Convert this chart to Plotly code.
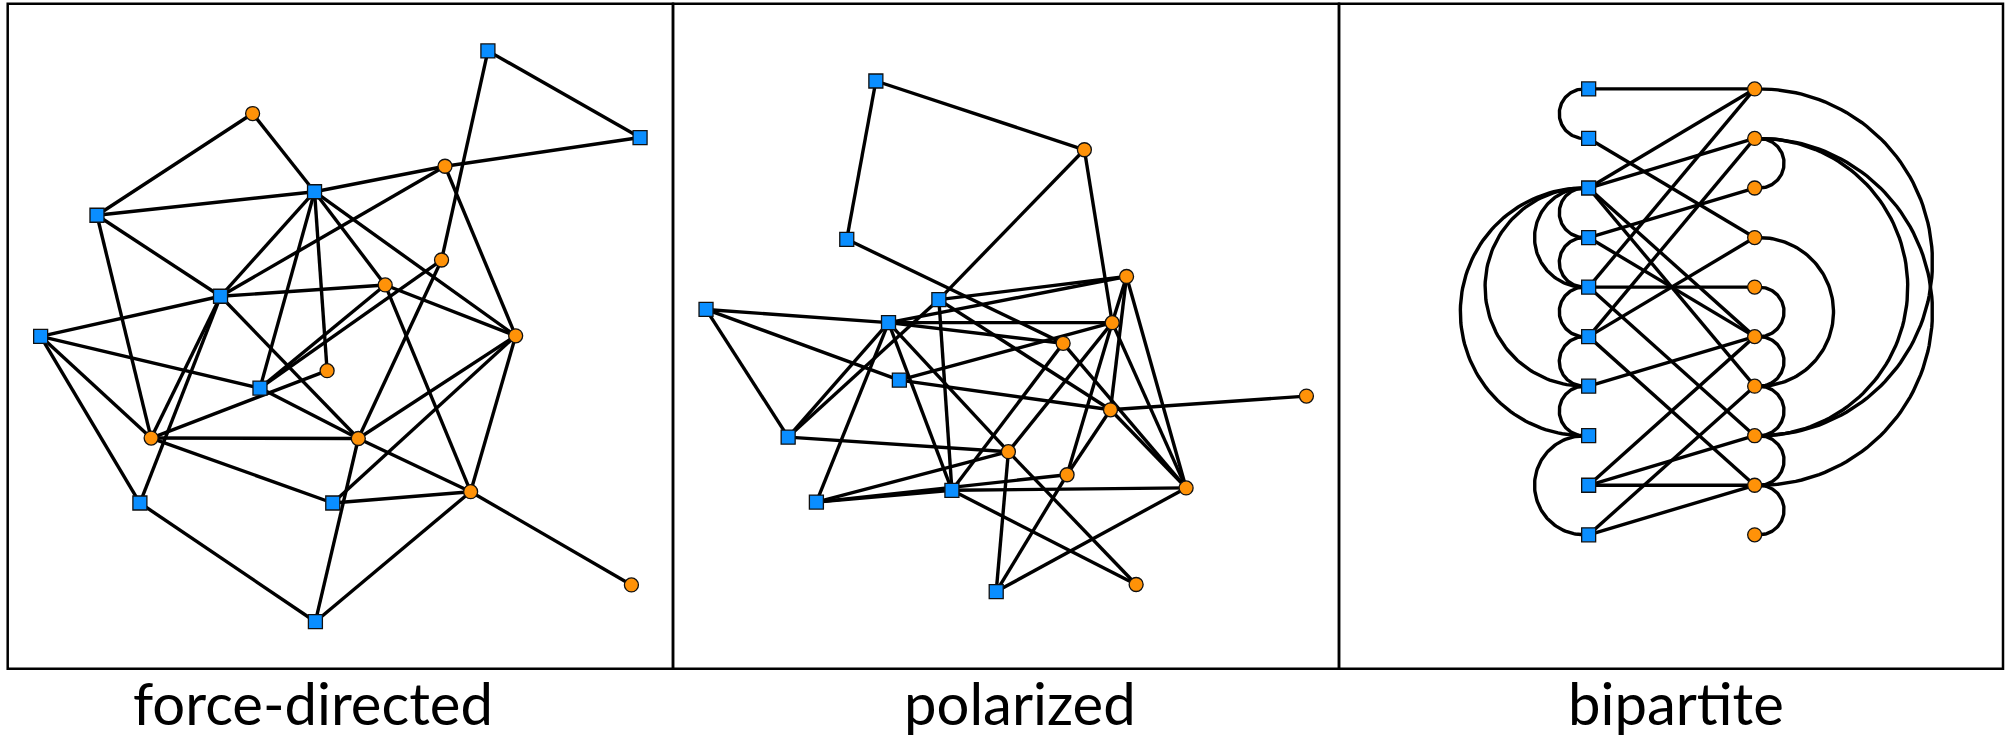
import numpy as np
import plotly.graph_objects as go

# ---------------- data ----------------
# panel titles
panel_titles = ["force-directed", "polarized", "bipartite"]

# Panel 1: force-directed layout (normalized box coords, y grows downward)
fd_sq_x = [0.7218, 0.9505, 0.4612, 0.1342, 0.3199, 0.0495, 0.3792, 0.1987, 0.4886, 0.4625]
fd_sq_y = [0.0708, 0.2011, 0.2826, 0.3180, 0.4398, 0.5000, 0.5779, 0.7507, 0.7507, 0.9292]
fd_ci_x = [0.3681, 0.6573, 0.6521, 0.5674, 0.7635, 0.4801, 0.2156, 0.5270, 0.6958, 0.9375]
fd_ci_y = [0.1650, 0.2443, 0.3853, 0.4228, 0.4993, 0.5517, 0.6530, 0.6537, 0.7337, 0.8739]
fd_edges = [("s1", "s2"), ("s1", "c3"), ("s2", "c2"), ("c2", "s3"), ("c2", "s5"), ("c2", "c5"),
            ("c1", "s4"), ("c1", "s3"), ("s4", "s3"), ("s4", "s5"), ("s4", "c7"), ("s3", "s5"),
            ("s3", "s7"), ("s3", "c6"), ("s3", "c4"), ("s3", "c5"), ("s5", "c4"), ("s5", "s6"),
            ("s5", "c7"), ("s5", "s8"), ("s5", "c8"), ("s6", "s7"), ("s6", "c7"), ("s6", "s8"),
            ("s7", "c4"), ("s7", "c3"), ("s7", "c8"), ("c7", "c6"), ("c7", "c8"), ("c7", "s9"),
            ("c4", "c5"), ("c4", "c9"), ("c3", "c8"), ("c5", "c8"), ("c5", "s9"), ("c5", "c9"),
            ("c8", "c9"), ("c8", "s10"), ("s9", "c9"), ("c9", "s10"), ("c9", "c10"), ("s8", "s10")]

# Panel 2: polarized layout
po_sq_x = [0.3046, 0.2609, 0.3992, 0.0496, 0.3236, 0.3399, 0.1729, 0.2153, 0.4188, 0.4853]
po_sq_y = [0.1161, 0.3541, 0.4448, 0.4596, 0.4795, 0.5659, 0.6516, 0.7493, 0.7316, 0.8839]
po_ci_x = [0.6177, 0.6810, 0.6595, 0.5858, 0.9511, 0.6569, 0.5036, 0.5917, 0.7704, 0.6954]
po_ci_y = [0.2195, 0.4101, 0.4795, 0.5106, 0.5899, 0.6105, 0.6735, 0.7082, 0.7280, 0.8732]
po_edges = [("s1", "c1"), ("s1", "s2"), ("s2", "c4"), ("c1", "s3"), ("c1", "c3"), ("s3", "s7"),
            ("s3", "c2"), ("s3", "s9"), ("s3", "c6"), ("s4", "s5"), ("s4", "s6"), ("s4", "s7"),
            ("s5", "c2"), ("s5", "c3"), ("s5", "c4"), ("s5", "s7"), ("s5", "s8"), ("s5", "s9"),
            ("s5", "c7"), ("c7", "c10"), ("s6", "c3"), ("s6", "c6"), ("s7", "c7"), ("s8", "c7"),
            ("s8", "s9"), ("s8", "c8"), ("s9", "c9"), ("s9", "c4"), ("s9", "c10"), ("c7", "c3"),
            ("c7", "s10"), ("s10", "c8"), ("c8", "c6"), ("s10", "c9"), ("c2", "c3"), ("c2", "c6"),
            ("c2", "c9"), ("c3", "c8"), ("c3", "c9"), ("c4", "c9"), ("c6", "c9"), ("c6", "c5")]

# Panel 3: bipartite layout (squares left column, circles right column)
bp_left_col = 0.376
bp_right_col = 0.626
bp_rows = [0.128, 0.2025, 0.277, 0.3515, 0.426, 0.5005, 0.575, 0.6495, 0.724, 0.7985]
bp_straight = [(0, 0), (1, 3), (2, 0), (2, 1), (2, 5), (2, 6), (3, 2), (3, 5), (4, 0), (4, 4),
               (4, 7), (5, 1), (5, 3), (5, 8), (6, 5), (8, 5), (8, 7), (8, 8), (9, 6), (9, 8)]
bp_left_arcs = [(0, 1), (2, 3), (3, 4), (4, 5), (5, 6), (6, 7), (2, 4), (2, 6), (2, 7), (7, 9)]
bp_right_arcs = [(1, 2), (4, 5), (5, 6), (6, 7), (7, 8), (8, 9), (3, 6), (0, 7), (1, 7), (1, 8)]

# ---------------- style ----------------
SQ_COLOR = "#0a8eff"
CI_COLOR = "#ff9208"
EDGE_W = 3.4
MARK = 14
ARC_OFFSET = 0.007

W, H = 2009, 739
box_x = [7.7, 673.0, 1339.0, 2003.0]
box_top, box_bot = 3.8, 668.8
title_cx = [313, 1020, 1676]

fig = go.Figure()


def straight_edges(pos, edges):
    xs, ys = [], []
    for a, b in edges:
        xa, ya = pos[a]
        xb, yb = pos[b]
        xs += [xa, xb, None]
        ys += [ya, yb, None]
    return xs, ys


def add_nodes(axn, sqx, sqy, cix, ciy):
    fig.add_trace(go.Scatter(x=sqx, y=sqy, mode="markers", xaxis="x" + axn, yaxis="y" + axn,
                             marker=dict(symbol="square", size=MARK, color=SQ_COLOR,
                                         line=dict(color="#111111", width=1.3)),
                             hoverinfo="skip", showlegend=False))
    fig.add_trace(go.Scatter(x=cix, y=ciy, mode="markers", xaxis="x" + axn, yaxis="y" + axn,
                             marker=dict(symbol="circle", size=MARK, color=CI_COLOR,
                                         line=dict(color="#111111", width=1.3)),
                             hoverinfo="skip", showlegend=False))


# panels 1 and 2
for axn, sqx, sqy, cix, ciy, edges in [("", fd_sq_x, fd_sq_y, fd_ci_x, fd_ci_y, fd_edges),
                                       ("2", po_sq_x, po_sq_y, po_ci_x, po_ci_y, po_edges)]:
    pos = {}
    for i in range(len(sqx)):
        pos["s%d" % (i + 1)] = (sqx[i], sqy[i])
    for i in range(len(cix)):
        pos["c%d" % (i + 1)] = (cix[i], ciy[i])
    xs, ys = straight_edges(pos, edges)
    fig.add_trace(go.Scatter(x=xs, y=ys, mode="lines", xaxis="x" + axn, yaxis="y" + axn,
                             line=dict(color="black", width=EDGE_W),
                             hoverinfo="skip", showlegend=False))
    add_nodes(axn, sqx, sqy, cix, ciy)

# panel 3
xs, ys = [], []
for i, j in bp_straight:
    xs += [bp_left_col, bp_right_col, None]
    ys += [bp_rows[i], bp_rows[j], None]
t = np.linspace(0, np.pi, 90)
for arcs, col, side in [(bp_left_arcs, bp_left_col, -1), (bp_right_arcs, bp_right_col, 1)]:
    for i, j in arcs:
        y1, y2 = bp_rows[i], bp_rows[j]
        yc, r = (y1 + y2) / 2, abs(y2 - y1) / 2
        cx = col + side * ARC_OFFSET
        ax = list(cx + side * r * np.sin(t))
        ay = list(yc - r * np.cos(t))
        xs += [col] + ax + [col, None]
        ys += [y1] + ay + [y2, None]
fig.add_trace(go.Scatter(x=xs, y=ys, mode="lines", xaxis="x3", yaxis="y3",
                         line=dict(color="black", width=EDGE_W),
                         hoverinfo="skip", showlegend=False))
add_nodes("3", [bp_left_col] * len(bp_rows), bp_rows, [bp_right_col] * len(bp_rows), bp_rows)

# axes
ydom = [1 - box_bot / H, 1 - box_top / H]
layout_axes = {}
for k, axn in enumerate(["", "2", "3"]):
    xdom = [box_x[k] / W, box_x[k + 1] / W]
    common = dict(showgrid=False, zeroline=False, showticklabels=False, ticks="",
                  showline=False, fixedrange=True)
    layout_axes["xaxis" + axn] = dict(domain=xdom, range=[0, 1], anchor="y" + axn, **common)
    layout_axes["yaxis" + axn] = dict(domain=ydom, range=[1, 0], anchor="x" + axn, **common)

shapes = []
for k in range(3):
    shapes.append(dict(type="rect", xref="paper", yref="paper",
                       x0=box_x[k] / W, x1=box_x[k + 1] / W, y0=ydom[0], y1=ydom[1],
                       line=dict(color="black", width=2.5), fillcolor="rgba(0,0,0,0)",
                       layer="below"))

annotations = []
for k in range(3):
    annotations.append(dict(text=panel_titles[k], xref="paper", yref="paper",
                            x=title_cx[k] / W, y=1 - 702 / H, xanchor="center", yanchor="middle",
                            borderpad=0,
                            showarrow=False, font=dict(family="Lato", size=58, color="black")))

fig.update_layout(width=W, height=H, margin=dict(l=0, r=0, t=0, b=0),
                  paper_bgcolor="white", plot_bgcolor="white",
                  shapes=shapes, annotations=annotations, **layout_axes)

fig.write_html("out.html", config={"displayModeBar": False},
               post_script="document.body.style.margin='0';document.body.style.overflow='hidden';")
